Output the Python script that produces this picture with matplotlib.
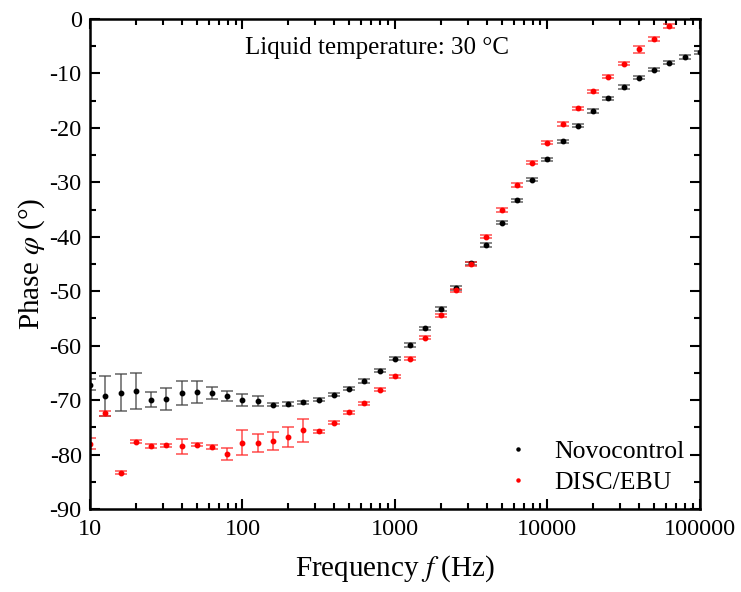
import numpy as np
import matplotlib
matplotlib.use("Agg")
import matplotlib.pyplot as plt
from matplotlib.lines import Line2D
from matplotlib.ticker import FixedLocator, LogLocator, NullFormatter, MultipleLocator

plt.rcParams['font.family'] = ['Liberation Serif', 'DejaVu Serif']
plt.rcParams['mathtext.fontset'] = 'stix'
plt.rcParams['axes.unicode_minus'] = False

# frequencies (Hz), one-tenth-decade steps
freq_novo = [10, 12.59, 15.85, 19.95, 25.12, 31.62, 39.81, 50.12, 63.1, 79.43,
             100, 125.9, 158.5, 199.5, 251.2, 316.2, 398.1, 501.2, 631, 794.3,
             1000, 1259, 1585, 1995, 2512, 3162, 3981, 5012, 6310, 7943,
             10000, 12589, 15849, 19953, 25119, 31623, 39811, 50119, 63096, 79433,
             100000]
phase_novo = [-67.2, -69.2, -68.6, -68.3, -69.9, -69.8, -68.6, -68.5, -68.7, -69.2,
              -70.0, -70.2, -70.8, -70.7, -70.4, -69.9, -69.0, -67.9, -66.5, -64.6,
              -62.4, -59.9, -56.8, -53.2, -49.4, -44.9, -41.5, -37.4, -33.3, -29.5,
              -25.8, -22.5, -19.6, -16.9, -14.6, -12.5, -10.8, -9.3, -8.0, -7.0,
              -6.1]
err_novo = [1.0, 3.7, 3.4, 3.25, 1.4, 2.0, 2.2, 2.0, 1.1, 0.9,
            1.1, 0.9, 0.3, 0.3, 0.3, 0.3, 0.3, 0.3, 0.3, 0.3,
            0.3, 0.4, 0.3, 0.4, 0.3, 0.3, 0.4, 0.3, 0.3, 0.3,
            0.3, 0.3, 0.3, 0.3, 0.3, 0.3, 0.3, 0.3, 0.3, 0.3,
            0.3]

freq_disc = [10, 12.59, 15.85, 19.95, 25.12, 31.62, 39.81, 50.12, 63.1, 79.43,
             100, 125.9, 158.5, 199.5, 251.2, 316.2, 398.1, 501.2, 631, 794.3,
             1000, 1259, 1585, 1995, 2512, 3162, 3981, 5012, 6310, 7943,
             10000, 12589, 15849, 19953, 25119, 31623, 39811, 50119, 63096]
phase_disc = [-78.0, -72.4, -83.3, -77.6, -78.4, -78.3, -78.5, -78.2, -78.6, -79.9,
              -77.8, -77.9, -77.5, -76.8, -75.5, -75.7, -74.1, -72.2, -70.6, -68.1,
              -65.6, -62.4, -58.5, -54.4, -49.8, -45.0, -40.0, -35.1, -30.5, -26.4,
              -22.7, -19.3, -16.4, -13.3, -10.6, -8.2, -5.6, -3.7, -1.3]
err_disc = [1.0, 0.45, 0.3, 0.3, 0.3, 0.3, 1.4, 0.3, 0.3, 1.1,
            2.35, 1.7, 1.7, 1.8, 2.1, 0.3, 0.3, 0.3, 0.3, 0.3,
            0.3, 0.3, 0.3, 0.3, 0.3, 0.3, 0.3, 0.3, 0.3, 0.3,
            0.3, 0.3, 0.3, 0.3, 0.3, 0.3, 0.6, 0.3, 0.3]

fig = plt.figure(figsize=(7.41, 5.92), dpi=100)
ax = fig.add_axes([0.1215, 0.140, 0.823, 0.828])

ax.errorbar(freq_novo, phase_novo, yerr=err_novo, fmt='o', color='black',
            ms=3.2, ecolor=(0.25, 0.25, 0.25, 0.75), elinewidth=1.2,
            capsize=4.5, capthick=1.2)
ax.errorbar(freq_disc, phase_disc, yerr=err_disc, fmt='o', color='red',
            ms=3.2, ecolor=(1, 0.15, 0.15, 0.75), elinewidth=1.2,
            capsize=4.5, capthick=1.2)

ax.set_xscale('log')
ax.set_xlim(10, 100000)
ax.set_ylim(-90, 0)
ax.xaxis.set_major_locator(FixedLocator([10, 100, 1000, 10000, 100000]))
ax.set_xticklabels(['10', '100', '1000', '10000', '100000'])
ax.xaxis.set_minor_locator(LogLocator(base=10, subs=np.arange(2, 10)))
ax.xaxis.set_minor_formatter(NullFormatter())
ax.yaxis.set_major_locator(MultipleLocator(10))
ax.yaxis.set_minor_locator(MultipleLocator(5))

for s in ax.spines.values():
    s.set_linewidth(1.8)
ax.tick_params(which='both', direction='in', top=True, right=True, width=1.5,
               labelsize=17.5)
ax.tick_params(which='major', length=7)
ax.tick_params(which='minor', length=4)
ax.tick_params(axis='x', pad=7)
ax.tick_params(axis='y', pad=6)

ax.set_xlabel('Frequency $f$ (Hz)', fontsize=21, labelpad=10)
ax.set_ylabel(r'Phase $\varphi$ (°)', fontsize=21, labelpad=2)

ax.text(0.47, 0.941, 'Liquid temperature: 30 °C', transform=ax.transAxes,
        ha='center', va='center', fontsize=18)

handles = [Line2D([], [], ls='none', marker='o', ms=2.2, color='black'),
           Line2D([], [], ls='none', marker='o', ms=2.2, color='red')]
ax.legend(handles, ['Novocontrol', 'DISC/EBU'], loc='lower right',
          frameon=False, fontsize=18.5, handlelength=1.0, handletextpad=0.9,
          labelspacing=0.3, borderaxespad=0.2)

fig.savefig('out.png', dpi=100, facecolor='white')
